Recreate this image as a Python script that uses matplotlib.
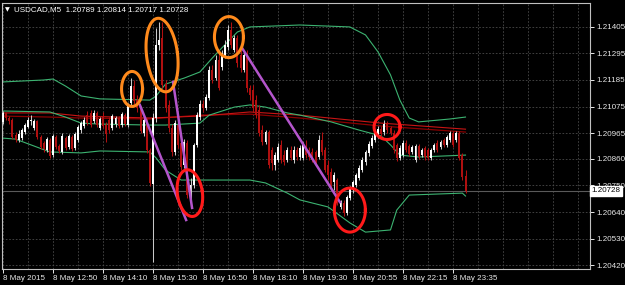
import matplotlib
matplotlib.use('Agg')
import matplotlib.pyplot as plt
import numpy as np

plt.rcParams['font.family'] = ['Liberation Sans', 'DejaVu Sans']

# USDCAD M5, 8 May 2015, bars from 11:30 to 23:55
opens = [1.21011, 1.21049, 1.21028, 1.21020, 1.20958, 1.20937, 1.20945, 1.20970, 1.20991, 1.21016,
         1.20987, 1.21016, 1.20949, 1.20925, 1.20896, 1.20937, 1.20875, 1.20949, 1.20912, 1.20888,
         1.20945, 1.20908, 1.20949, 1.20904, 1.20937, 1.20978, 1.20995, 1.21040, 1.21049, 1.21016,
         1.21049, 1.20987, 1.21032, 1.20999, 1.21020, 1.20987, 1.21003, 1.21028, 1.20999, 1.21040,
         1.20999, 1.21090, 1.21160, 1.21102, 1.21069, 1.20966, 1.21020, 1.20896, 1.20755, 1.21028,
         1.21329, 1.21358, 1.21168, 1.21082, 1.20987, 1.20888, 1.20999, 1.20925, 1.20834, 1.20925,
         1.20689, 1.20751, 1.20916, 1.21032, 1.21086, 1.21069, 1.21110, 1.21226, 1.21193, 1.21267,
         1.21238, 1.21288, 1.21321, 1.21391, 1.21309, 1.21358, 1.21288, 1.21226, 1.21288, 1.21152,
         1.21144, 1.21102, 1.21061, 1.20978, 1.20929, 1.20970, 1.20896, 1.20834, 1.20855, 1.20916,
         1.20875, 1.20855, 1.20896, 1.20855, 1.20896, 1.20867, 1.20863, 1.20908, 1.20896, 1.20888,
         1.20888, 1.20867, 1.20937, 1.20896, 1.20834, 1.20805, 1.20764, 1.20772, 1.20661, 1.20677,
         1.20636, 1.20698, 1.20731, 1.20751, 1.20780, 1.20813, 1.20846, 1.20883, 1.20912, 1.20937,
         1.20954, 1.20982, 1.20970, 1.21003, 1.20987, 1.20966, 1.20916, 1.20863, 1.20875, 1.20925,
         1.20912, 1.20888, 1.20855, 1.20912, 1.20875, 1.20904, 1.20896, 1.20863, 1.20896, 1.20925,
         1.20908, 1.20937, 1.20916, 1.20937, 1.20966, 1.20937, 1.20966, 1.20875, 1.20789]
highs = [1.21057, 1.21053, 1.21036, 1.21028, 1.20970, 1.20978, 1.20987, 1.21007, 1.21032, 1.21040,
         1.21024, 1.21020, 1.20958, 1.20933, 1.20949, 1.20945, 1.20962, 1.20958, 1.20921, 1.20966,
         1.20954, 1.20962, 1.20958, 1.20970, 1.20999, 1.21016, 1.21032, 1.21057, 1.21061, 1.21061,
         1.21057, 1.21032, 1.21053, 1.21011, 1.21032, 1.21044, 1.21036, 1.21036, 1.21053, 1.21049,
         1.21090, 1.21193, 1.21185, 1.21123, 1.21077, 1.21032, 1.21028, 1.20904, 1.21049, 1.21400,
         1.21424, 1.21424, 1.21185, 1.21102, 1.21003, 1.21020, 1.21011, 1.20937, 1.20941, 1.20937,
         1.20780, 1.20925, 1.21053, 1.21102, 1.21102, 1.21127, 1.21243, 1.21247, 1.21288, 1.21309,
         1.21309, 1.21350, 1.21412, 1.21424, 1.21371, 1.21371, 1.21309, 1.21300, 1.21309, 1.21164,
         1.21164, 1.21123, 1.21082, 1.20999, 1.20978, 1.20978, 1.20908, 1.20888, 1.20925, 1.20937,
         1.20896, 1.20908, 1.20912, 1.20912, 1.20908, 1.20916, 1.20929, 1.20937, 1.20908, 1.20904,
         1.20896, 1.20958, 1.20970, 1.20908, 1.20855, 1.20822, 1.20805, 1.20780, 1.20689, 1.20689,
         1.20710, 1.20747, 1.20772, 1.20801, 1.20834, 1.20867, 1.20896, 1.20933, 1.20958, 1.20978,
         1.20995, 1.20995, 1.21020, 1.21016, 1.20995, 1.20978, 1.20925, 1.20916, 1.20937, 1.20937,
         1.20921, 1.20916, 1.20921, 1.20921, 1.20904, 1.20912, 1.20904, 1.20904, 1.20925, 1.20937,
         1.20937, 1.20945, 1.20958, 1.20974, 1.20974, 1.20974, 1.20974, 1.20883, 1.20814]
lows = [1.21003, 1.21020, 1.21003, 1.20941, 1.20929, 1.20929, 1.20937, 1.20962, 1.20987, 1.20999,
        1.20978, 1.20941, 1.20900, 1.20888, 1.20888, 1.20863, 1.20867, 1.20900, 1.20883, 1.20879,
        1.20896, 1.20900, 1.20892, 1.20896, 1.20929, 1.20966, 1.20987, 1.20999, 1.20991, 1.21007,
        1.20991, 1.20978, 1.20987, 1.20929, 1.20966, 1.20978, 1.20991, 1.20987, 1.20991, 1.20995,
        1.20991, 1.21077, 1.21086, 1.21053, 1.20966, 1.20954, 1.20883, 1.20747, 1.20434, 1.21011,
        1.21309, 1.21152, 1.21053, 1.20970, 1.20871, 1.20875, 1.20904, 1.20813, 1.20822, 1.20698,
        1.20656, 1.20739, 1.20908, 1.21020, 1.21053, 1.21061, 1.21102, 1.21172, 1.21185, 1.21144,
        1.21226, 1.21276, 1.21309, 1.21317, 1.21300, 1.21238, 1.21218, 1.21218, 1.21135, 1.21102,
        1.21053, 1.21028, 1.20954, 1.20916, 1.20921, 1.20822, 1.20813, 1.20813, 1.20846, 1.20842,
        1.20834, 1.20846, 1.20855, 1.20842, 1.20855, 1.20855, 1.20855, 1.20863, 1.20855, 1.20846,
        1.20830, 1.20859, 1.20875, 1.20805, 1.20772, 1.20743, 1.20731, 1.20669, 1.20652, 1.20623,
        1.20628, 1.20689, 1.20718, 1.20743, 1.20772, 1.20805, 1.20834, 1.20871, 1.20904, 1.20929,
        1.20945, 1.20949, 1.20958, 1.20966, 1.20958, 1.20883, 1.20850, 1.20855, 1.20867, 1.20888,
        1.20871, 1.20879, 1.20846, 1.20859, 1.20867, 1.20855, 1.20855, 1.20855, 1.20888, 1.20888,
        1.20900, 1.20908, 1.20908, 1.20929, 1.20908, 1.20929, 1.20855, 1.20772, 1.20717]
closes = [1.21049, 1.21028, 1.21016, 1.20949, 1.20937, 1.20962, 1.20978, 1.20999, 1.21020, 1.21020,
          1.21016, 1.20949, 1.20908, 1.20900, 1.20941, 1.20871, 1.20954, 1.20908, 1.20892, 1.20954,
          1.20904, 1.20954, 1.20900, 1.20962, 1.20991, 1.21007, 1.21020, 1.21007, 1.20999, 1.21049,
          1.20999, 1.21024, 1.20995, 1.20962, 1.20978, 1.21036, 1.21028, 1.20995, 1.21044, 1.21003,
          1.21082, 1.21160, 1.21098, 1.21069, 1.20974, 1.21020, 1.20896, 1.20760, 1.21028, 1.21329,
          1.21350, 1.21164, 1.21069, 1.20987, 1.20888, 1.21007, 1.20916, 1.20826, 1.20929, 1.20710,
          1.20751, 1.20916, 1.21040, 1.21086, 1.21069, 1.21115, 1.21226, 1.21185, 1.21267, 1.21152,
          1.21296, 1.21329, 1.21391, 1.21329, 1.21358, 1.21255, 1.21234, 1.21288, 1.21152, 1.21123,
          1.21069, 1.21040, 1.20966, 1.20929, 1.20970, 1.20834, 1.20842, 1.20875, 1.20908, 1.20855,
          1.20846, 1.20896, 1.20863, 1.20896, 1.20867, 1.20904, 1.20916, 1.20875, 1.20867, 1.20855,
          1.20842, 1.20937, 1.20888, 1.20813, 1.20793, 1.20751, 1.20793, 1.20677, 1.20681, 1.20636,
          1.20702, 1.20739, 1.20764, 1.20793, 1.20822, 1.20855, 1.20888, 1.20921, 1.20945, 1.20966,
          1.20982, 1.20962, 1.21003, 1.20978, 1.20966, 1.20896, 1.20863, 1.20904, 1.20925, 1.20896,
          1.20879, 1.20908, 1.20912, 1.20867, 1.20896, 1.20867, 1.20863, 1.20896, 1.20916, 1.20896,
          1.20929, 1.20916, 1.20949, 1.20966, 1.20916, 1.20966, 1.20863, 1.20784, 1.20728]

# indicator lines (bar index, price)
bb_upper_x = [0, 13, 16, 20, 25, 31, 47, 49, 52, 58, 63, 67, 70, 75, 79, 95, 111, 116, 120, 124, 127, 130, 133, 143, 148]
bb_upper = [1.21177, 1.21185, 1.21189, 1.21160, 1.21119, 1.21107, 1.21102, 1.21119, 1.21168, 1.21193,
            1.21218, 1.21276, 1.21317, 1.21383, 1.21404, 1.21412, 1.21404, 1.21371, 1.21301, 1.21206,
            1.21102, 1.21028, 1.21012, 1.21024, 1.21032]
bb_mid_x = [0, 15, 20, 25, 31, 47, 52, 63, 66, 74, 79, 84, 91, 95, 105, 114, 121, 124, 127, 133, 148]
bb_mid = [1.21057, 1.21053, 1.21032, 1.21007, 1.21003, 1.20999, 1.20999, 1.21007, 1.21040, 1.21073,
          1.21082, 1.21073, 1.21049, 1.21040, 1.21012, 1.20978, 1.20954, 1.20917, 1.20875, 1.20867, 1.20875]
bb_lower_x = [0, 4, 15, 25, 31, 47, 49, 52, 57, 79, 84, 91, 95, 104, 111, 116, 124, 126, 130, 147, 148]
bb_lower = [1.20945, 1.20941, 1.20888, 1.20884, 1.20892, 1.20888, 1.20863, 1.20813, 1.20772, 1.20772,
            1.20760, 1.20718, 1.20690, 1.20661, 1.20595, 1.20557, 1.20566, 1.20648, 1.20710, 1.20718, 1.20706]
ma_x = [0, 15, 25, 47, 63, 79, 95, 121, 148]
ma_fast = [1.21049, 1.21049, 1.21036, 1.21028, 1.21036, 1.21053, 1.21040, 1.21007, 1.20982]
ma_slow = [1.21036, 1.21032, 1.21028, 1.21024, 1.21040, 1.21044, 1.21028, 1.20995, 1.20970]

time_labels = ['8 May 2015', '8 May 12:50', '8 May 14:10', '8 May 15:30', '8 May 16:50',
               '8 May 18:10', '8 May 19:30', '8 May 20:55', '8 May 22:15', '8 May 23:35']
label_bars = [0, 16, 32, 48, 64, 80, 96, 112, 128, 144]
price_ticks = [1.21405, 1.21295, 1.21185, 1.21075, 1.20965, 1.20860, 1.20750, 1.20640, 1.20530, 1.20420]
last_price = 1.20728

PX_BAR = 3.125        # pixels per bar
PX_PRICE = 0.00004128  # price per pixel

fig = plt.figure(figsize=(6.25, 2.85), dpi=100, facecolor='black')
ax = fig.add_axes([2/625, 16/285, 588/625, 266/285], facecolor='black')

opens = np.array(opens); closes = np.array(closes)
highs = np.array(highs); lows = np.array(lows)
x = np.arange(len(opens))
up = closes >= opens
body_bottom = np.minimum(opens, closes)
body_h = np.maximum(np.abs(closes - opens), 0.00002)

#grid
for b in range(0, 190, 8):
    ax.axvline(b, color='#4a4a4a', lw=0.6, ls=(0, (2, 2)), zorder=0)
for p in price_ticks:
    ax.axhline(p, color='#4a4a4a', lw=0.6, ls=(0, (2, 2)), zorder=0)

ax.axhline(last_price, color='#5a5a5a', lw=0.8, zorder=1)

# bands and averages
ax.plot(ma_x, ma_slow, color='#8b0000', lw=0.9, zorder=2)
ax.plot(ma_x, ma_fast, color='#c81414', lw=0.8, zorder=2)
ax.plot(bb_upper_x, bb_upper, color='#3cb371', lw=0.8, zorder=2)
ax.plot(bb_mid_x, bb_mid, color='#3cb371', lw=0.8, zorder=2)
ax.plot(bb_lower_x, bb_lower, color='#3cb371', lw=0.8, zorder=2)

# candles
wick_col = np.where(up, '#c8c8c8', '#b01010')
body_col = np.where(up, '#ffffff', '#b01010')
ax.vlines(x, lows, highs, colors=wick_col, lw=0.75, zorder=3)
ax.bar(x, body_h, bottom=body_bottom, width=0.62, color=body_col, linewidth=0, zorder=4)

# hand drawn marks
ax.plot([43.8, 58.6], [1.21082, 1.20607], color='#b455cc', lw=1.8, zorder=5)
ax.plot([54.4, 60.5], [1.21177, 1.20657], color='#b455cc', lw=1.8, zorder=5)
ax.plot([76.5, 107.8], [1.21317, 1.20681], color='#b455cc', lw=1.8, zorder=5)

def ellipse(cx, cy, w, h, ang, color):
    t = np.linspace(0, 2 * np.pi, 120)
    dx = w / 2 * np.cos(t)
    dy = h / 2 * np.sin(t)
    a = np.radians(ang)
    rx = dx * np.cos(a) - dy * np.sin(a)
    ry = dx * np.sin(a) + dy * np.cos(a)
    ax.plot(cx + rx / PX_BAR, cy + ry * PX_PRICE, color=color, lw=2.2, zorder=6)

ellipse(41.3, 1.21148, 21, 35, 0, '#ff8a1c')
ellipse(50.9, 1.21288, 31, 74, 7, '#ff8a1c')
ellipse(72.3, 1.21362, 29, 41, 0, '#ff8a1c')
ellipse(59.8, 1.20718, 25, 47, 8, '#ff1a1a')
ellipse(111.0, 1.20648, 31, 44, 0, '#ff1a1a')
ellipse(122.9, 1.20991, 26, 25, 0, '#ff1a1a')

ax.set_xlim((2 - 3) / PX_BAR, (590 - 3) / PX_BAR)
ax.set_ylim(1.215152 - 269 * PX_PRICE, 1.215152 - 3 * PX_PRICE)

ax.yaxis.tick_right()
ax.set_yticks(price_ticks)
ax.set_yticklabels(['%.5f' % p for p in price_ticks])
ax.set_xticks(label_bars)
ax.set_xticklabels(time_labels)
for lbl in ax.get_xticklabels():
    lbl.set_ha('left')
ax.tick_params(colors='#e8e8e8', labelsize=5.8, length=3, width=0.7, pad=1.5)
for s in ax.spines.values():
    s.set_color('#c0c0c0')
    s.set_linewidth(0.8)

ax.text(1.003, last_price, '%.5f' % last_price, transform=ax.get_yaxis_transform(),
        ha='left', va='center', fontsize=5.8, color='black', zorder=10, clip_on=False,
        bbox=dict(boxstyle='square,pad=0.2', fc='white', ec='white'))

fig.text(5 / 625, 1 - 10 / 285, '\u25bc', color='white', fontsize=4.5, va='center',
         family='DejaVu Sans')
fig.text(14 / 625, 1 - 10 / 285, 'USDCAD,M5  1.20789 1.20814 1.20717 1.20728',
         color='white', fontsize=5.8, va='center')

fig.savefig('out.png', dpi=100, facecolor='black')
